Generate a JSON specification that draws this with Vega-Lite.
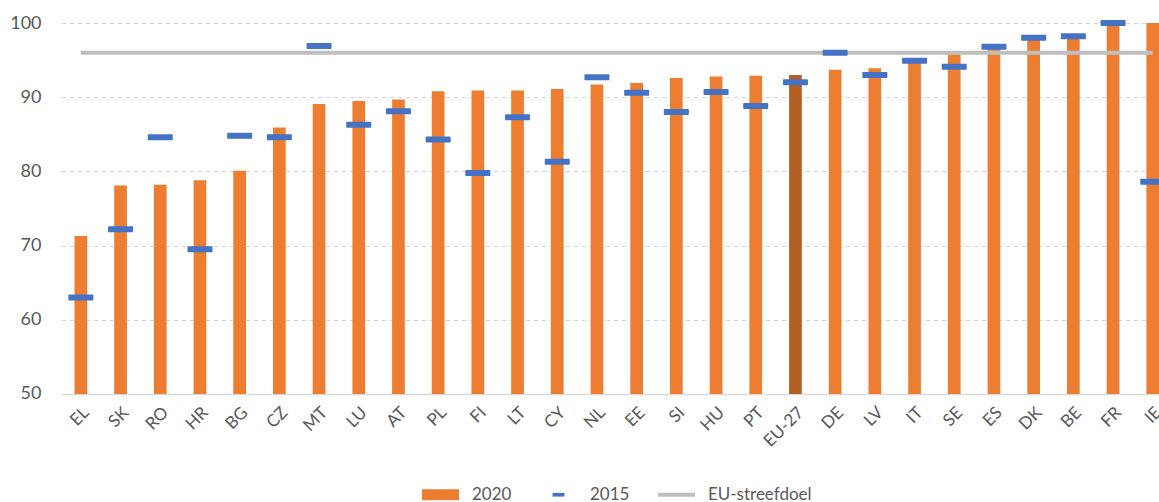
{
  "$schema": "https://vega.github.io/schema/vega-lite/v6.json",
  "padding": {"left": 9, "top": 14, "right": 0, "bottom": 0},
  "width": {"step": 39.7},
  "height": 371,
  "config": {
    "font": "Lato",
    "view": {"stroke": null},
    "axis": {"labelFont": "Lato", "labelColor": "#595959"},
    "legend": {"labelFont": "Lato", "layout": {"bottom": {"anchor": "middle"}}}
  },
  "data": {
    "values": [
      {"country": "EL", "v2020": 71.3, "v2015": 63.0, "target": 96},
      {"country": "SK", "v2020": 78.1, "v2015": 72.2, "target": 96},
      {"country": "RO", "v2020": 78.2, "v2015": 84.6, "target": 96},
      {"country": "HR", "v2020": 78.8, "v2015": 69.5, "target": 96},
      {"country": "BG", "v2020": 80.1, "v2015": 84.8, "target": 96},
      {"country": "CZ", "v2020": 85.9, "v2015": 84.6, "target": 96},
      {"country": "MT", "v2020": 89.1, "v2015": 96.9, "target": 96},
      {"country": "LU", "v2020": 89.5, "v2015": 86.3, "target": 96},
      {"country": "AT", "v2020": 89.7, "v2015": 88.1, "target": 96},
      {"country": "PL", "v2020": 90.8, "v2015": 84.3, "target": 96},
      {"country": "FI", "v2020": 90.9, "v2015": 79.8, "target": 96},
      {"country": "LT", "v2020": 90.9, "v2015": 87.3, "target": 96},
      {"country": "CY", "v2020": 91.1, "v2015": 81.3, "target": 96},
      {"country": "NL", "v2020": 91.7, "v2015": 92.7, "target": 96},
      {"country": "EE", "v2020": 91.9, "v2015": 90.6, "target": 96},
      {"country": "SI", "v2020": 92.6, "v2015": 88.0, "target": 96},
      {"country": "HU", "v2020": 92.8, "v2015": 90.7, "target": 96},
      {"country": "PT", "v2020": 92.9, "v2015": 88.8, "target": 96},
      {"country": "EU-27", "v2020": 93.0, "v2015": 92.0, "target": 96},
      {"country": "DE", "v2020": 93.7, "v2015": 96.0, "target": 96},
      {"country": "LV", "v2020": 93.9, "v2015": 93.0, "target": 96},
      {"country": "IT", "v2020": 95.0, "v2015": 94.9, "target": 96},
      {"country": "SE", "v2020": 95.8, "v2015": 94.1, "target": 96},
      {"country": "ES", "v2020": 96.9, "v2015": 96.8, "target": 96},
      {"country": "DK", "v2020": 97.7, "v2015": 98.0, "target": 96},
      {"country": "BE", "v2020": 98.0, "v2015": 98.2, "target": 96},
      {"country": "FR", "v2020": 99.9, "v2015": 100.0, "target": 96},
      {"country": "IE", "v2020": 100.0, "v2015": 78.6, "target": 96}
    ]
  },
  "encoding": {
    "x": {
      "field": "country",
      "type": "nominal",
      "sort": null,
      "scale": {"paddingInner": 0, "paddingOuter": 0},
      "axis": {
        "title": null,
        "labelAngle": -45,
        "labelFontSize": 17,
        "labelPadding": 10,
        "ticks": false,
        "domain": true,
        "domainColor": "#D9D9D9",
        "domainWidth": 1.5,
        "grid": false
      }
    }
  },
  "layer": [
    {
      "mark": {"type": "bar", "width": {"band": 0.32}, "clip": true},
      "encoding": {
        "y": {
          "field": "v2020",
          "type": "quantitative",
          "scale": {"domain": [50, 100], "nice": false, "zero": false},
          "axis": {
            "title": null,
            "values": [50, 60, 70, 80, 90, 100],
            "labelFontSize": 18,
            "labelPadding": 20,
            "ticks": false,
            "domain": false,
            "grid": true,
            "gridColor": "#D9D9D9",
            "gridDash": [5, 3],
            "gridWidth": 1.2
          }
        },
        "color": {
          "datum": "2020",
          "condition": {"test": "datum.country === 'EU-27'", "value": "#B35E23"},
          "scale": {
            "domain": ["2020", "2015", "EU-streefdoel"],
            "range": ["#ED7D31", "#4472C4", "#BFBFBF"]
          },
          "legend": {
            "title": null,
            "orient": "bottom",
            "direction": "horizontal",
            "offset": 26,
            "symbolSize": 1369,
            "labelFontSize": 17,
            "labelColor": "#595959",
            "labelOffset": 13,
            "columnPadding": 28,
            "encode": {
              "symbols": {
                "update": {
                  "shape": {"signal": "datum.label === '2020' ? 'M-1,-0.3H1V0.3H-1Z' : (datum.label === '2015' ? 'M-0.32,-0.1H0.32V0.1H-0.32Z' : 'M-1,-0.11H1V0.11H-1Z')"},
                  "fill": {"signal": "scale('color', datum.value)"},
                  "stroke": {"value": "transparent"},
                  "strokeWidth": {"value": 0},
                  "opacity": {"value": 1},
                  "fillOpacity": {"value": 1}
                }
              }
            }
          }
        }
      }
    },
    {
      "mark": {"type": "line", "strokeWidth": 4},
      "encoding": {
        "y": {"field": "target", "type": "quantitative"},
        "color": {"datum": "EU-streefdoel"}
      }
    },
    {
      "mark": {"type": "tick", "size": 25, "thickness": 6, "cornerRadius": 1, "opacity": 1},
      "encoding": {
        "y": {"field": "v2015", "type": "quantitative"},
        "color": {"datum": "2015"}
      }
    }
  ]
}
